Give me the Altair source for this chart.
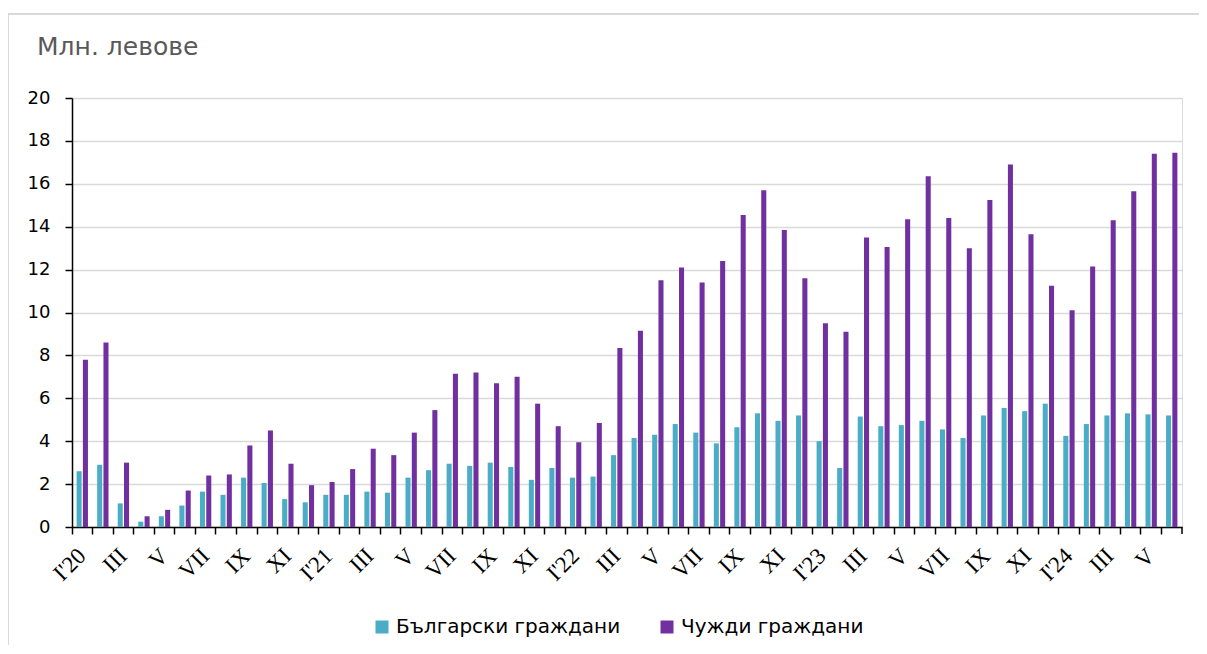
import altair as alt
import pandas as pd

tick_labels = ["I'20", "", "III", "", "V", "", "VII", "", "IX", "", "XI", "",
               "I'21", "", "III", "", "V", "", "VII", "", "IX", "", "XI", "",
               "I'22", "", "III", "", "V", "", "VII", "", "IX", "", "XI", "",
               "I'23", "", "III", "", "V", "", "VII", "", "IX", "", "XI", "",
               "I'24", "", "III", "", "V", ""]

bulgarian = [2.6, 2.9, 1.1, 0.25, 0.5, 1.0, 1.65, 1.5, 2.3, 2.05, 1.3, 1.15,
             1.5, 1.5, 1.65, 1.6, 2.3, 2.65, 2.95, 2.85, 3.0, 2.8, 2.2, 2.75,
             2.3, 2.35, 3.35, 4.15, 4.3, 4.8, 4.4, 3.9, 4.65, 5.3, 4.95, 5.2,
             4.0, 2.75, 5.15, 4.7, 4.75, 4.95, 4.55, 4.15, 5.2, 5.55, 5.4, 5.75,
             4.25, 4.8, 5.2, 5.3, 5.25, 5.2]

foreign = [7.8, 8.6, 3.0, 0.5, 0.8, 1.7, 2.4, 2.45, 3.8, 4.5, 2.95, 1.95,
           2.1, 2.7, 3.65, 3.35, 4.4, 5.45, 7.15, 7.2, 6.7, 7.0, 5.75, 4.7,
           3.95, 4.85, 8.35, 9.15, 11.5, 12.1, 11.4, 12.4, 14.55, 15.7, 13.85, 11.6,
           9.5, 9.1, 13.5, 13.05, 14.35, 16.35, 14.4, 13.0, 15.25, 16.9, 13.65, 11.25,
           10.1, 12.15, 14.3, 15.65, 17.4, 17.45]

series_names = ["Български граждани", "Чужди граждани"]
series_colors = ["#4BACC6", "#7030A0"]
y_title = "Млн. левове"

rows = []
for i in range(len(tick_labels)):
    rows.append({"idx": i, "series": series_names[0], "value": bulgarian[i]})
    rows.append({"idx": i, "series": series_names[1], "value": foreign[i]})
df = pd.DataFrame(rows)

label_js = "[" + ",".join("'" + s.replace("'", "\\'") + "'" for s in tick_labels) + "]"

W, H = 1110, 429

bars = alt.Chart(df).mark_bar().encode(
    x=alt.X("idx:O", title=None,
            scale=alt.Scale(paddingInner=0, paddingOuter=0),
            axis=alt.Axis(bandPosition=0, labelAngle=-45,
                          labelExpr=label_js + "[datum.value]",
                          labelFont="Liberation Serif", labelFontSize=23,
                          labelColor="black", labelAlign="right", labelBaseline="middle",
                          labelPadding=18,
                          domainColor="black", domainWidth=1.5,
                          tickColor="black", tickWidth=1.5, tickSize=7,
                          grid=False)),
    xOffset=alt.XOffset("series:N", sort=series_names,
                        scale=alt.Scale(paddingInner=0.2, paddingOuter=0.73)),
    y=alt.Y("value:Q", title=None,
            scale=alt.Scale(domain=[0, 20], nice=False),
            axis=alt.Axis(values=list(range(0, 21, 2)), labelFont="DejaVu Sans",
                          labelFontSize=18, labelColor="black", labelPadding=15,
                          domainColor="black", domainWidth=1.5,
                          tickColor="black", tickWidth=1.5, tickSize=7,
                          gridColor="#d9d9d9", gridWidth=1.3)),
    color=alt.Color("series:N", sort=series_names,
                    scale=alt.Scale(domain=series_names, range=series_colors),
                    legend=alt.Legend(title=None, orient="none", direction="horizontal",
                                      legendX=300, legendY=519, padding=0,
                                      symbolType="square", symbolSize=169,
                                      symbolStrokeWidth=0, labelLimit=0,
                                      labelFont="DejaVu Sans", labelFontSize=20,
                                      labelColor="black", columnPadding=36,
                                      labelOffset=4)),
)

frame_df = pd.DataFrame({"k": [0]})
frame = alt.Chart(frame_df).mark_rect(fill=None, stroke="#d9d9d9", strokeWidth=2,
                                      clip=False).encode(
    x=alt.value(-64), x2=alt.value(W + 60),
    y=alt.value(-84), y2=alt.value(H + 200),
)

end_tick = alt.Chart(frame_df).mark_rule(color="black", strokeWidth=1.5).encode(
    x=alt.value(W), y=alt.value(H), y2=alt.value(H + 7),
)

title_df = pd.DataFrame({"t": [y_title]})
title = alt.Chart(title_df).mark_text(
    align="left", baseline="alphabetic", font="DejaVu Sans", fontSize=25,
    color="#595959",
).encode(text="t:N", x=alt.value(-35), y=alt.value(-43))

chart = alt.layer(frame, bars, end_tick, title).properties(
    width=W, height=H,
    autosize=alt.AutoSizeParams(type="none"),
    padding={"left": 64, "top": 90, "right": 17, "bottom": 118},
).configure_view(stroke=None).configure(background="white")

chart.save("out.html", embed_options={"renderer": "svg", "actions": False})
